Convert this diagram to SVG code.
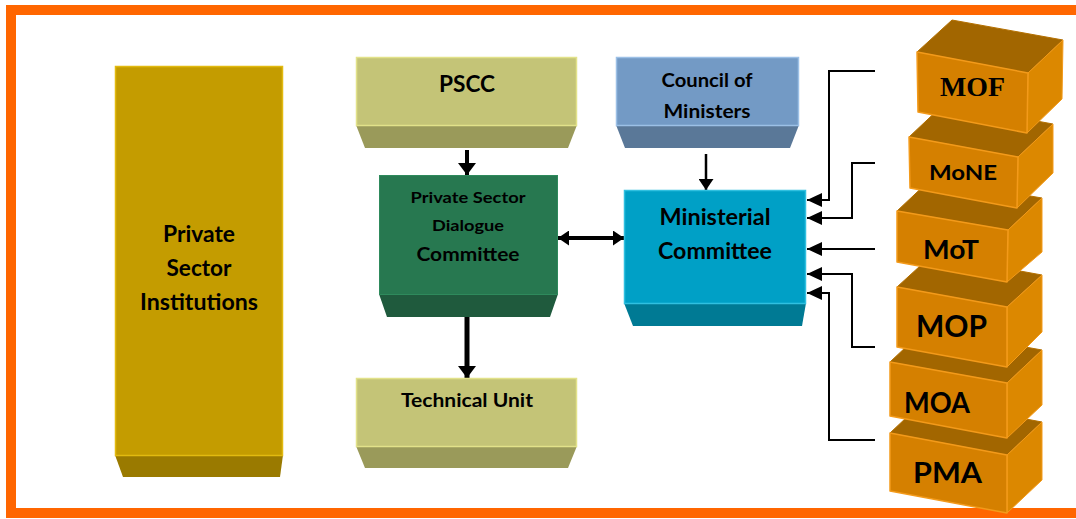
<svg xmlns="http://www.w3.org/2000/svg" width="1076" height="519" viewBox="0 0 1076 519">
  <defs>
    <style>
      .lbl { font-family: Lato, "Liberation Sans", sans-serif; font-weight: bold; fill: #000; text-anchor: middle; }
      .serif { font-family: "Liberation Serif", "DejaVu Serif", serif; font-weight: bold; fill: #000; text-anchor: middle; }
      .wire { fill: none; stroke: #000; }
      .gold .face { fill: #C49C00; stroke: #E2BA10; stroke-width: 1.5; }
      .gold .base { fill: #9A7A00; }
      .olive .face { fill: #C4C477; stroke: #E2E28A; stroke-width: 1.5; }
      .olive .base { fill: #9A9A5A; }
      .green .face { fill: #277850; stroke: #2E8A5C; stroke-width: 1; }
      .green .base { fill: #1F5A3D; }
      .steel .face { fill: #739AC5; stroke: #9CC0E6; stroke-width: 1.5; }
      .steel .base { fill: #5A7898; }
      .cyan .face { fill: #00A0C6; stroke: #30C0E0; stroke-width: 1.5; }
      .cyan .base { fill: #007A94; }
      .cube .front { fill: #D58000; stroke: #F39A1A; stroke-width: 1.5; stroke-linejoin: round; }
      .cube .top { fill: #A26600; stroke: #B47000; stroke-width: 1; }
      .cube .side { fill: #DC8800; stroke: #F39A1A; stroke-width: 1; }
    </style>
    <marker id="headL" viewBox="0 0 12 18" refX="12" refY="9" markerWidth="12" markerHeight="18" markerUnits="userSpaceOnUse" orient="auto">
      <path d="M0,0 L12,9 L0,18 z" fill="#000"/>
    </marker>
    <marker id="headM" viewBox="0 0 11 15" refX="11" refY="7.5" markerWidth="11" markerHeight="15" markerUnits="userSpaceOnUse" orient="auto-start-reverse">
      <path d="M0,0 L11,7.5 L0,15 z" fill="#000"/>
    </marker>
    <marker id="headS" viewBox="0 0 15 14" refX="15" refY="7" markerWidth="15" markerHeight="14" markerUnits="userSpaceOnUse" orient="auto">
      <path d="M0,0 L15,7 L0,14 z" fill="#000"/>
    </marker>
  </defs>

  <rect x="0" y="0" width="1076" height="519" fill="#fff"/>
  <!-- frame -->
  <rect x="11" y="10" width="1100" height="503" fill="none" stroke="#FF6600" stroke-width="10"/>

  <!-- connectors -->
  <g id="connectors">
    <path class="wire" d="M467,150 L467,175" stroke-width="4" marker-end="url(#headL)"/>
    <path class="wire" d="M706,154 L706,190" stroke-width="2.5" marker-end="url(#headM)"/>
    <path class="wire" d="M558,238 L624,238" stroke-width="4" marker-start="url(#headM)" marker-end="url(#headM)"/>
    <path class="wire" d="M467,317 L467,378" stroke-width="5" marker-end="url(#headL)"/>
    <path class="wire" d="M875,71 H829 V200 H807" stroke-width="2" marker-end="url(#headS)"/>
    <path class="wire" d="M875,163 H852 V218 H807" stroke-width="2" marker-end="url(#headS)"/>
    <path class="wire" d="M875,249 H807" stroke-width="2" marker-end="url(#headS)"/>
    <path class="wire" d="M875,347 H852 V274 H807" stroke-width="2" marker-end="url(#headS)"/>
    <path class="wire" d="M875,440 H829 V293 H807" stroke-width="2" marker-end="url(#headS)"/>
  </g>

  <!-- private sector institutions -->
  <g id="private-sector-institutions" class="gold">
    <polygon class="base" points="115,455 283,455 280,477 123,477"/>
    <rect class="face" x="115.5" y="66.5" width="167" height="389"/>
    <text class="lbl" x="199" y="242" font-size="22" textLength="72" lengthAdjust="spacingAndGlyphs">Private</text>
    <text class="lbl" x="199" y="276" font-size="22" textLength="65" lengthAdjust="spacingAndGlyphs">Sector</text>
    <text class="lbl" x="199" y="310" font-size="22" textLength="118" lengthAdjust="spacingAndGlyphs">Institutions</text>
  </g>

  <!-- PSCC -->
  <g id="pscc" class="olive">
    <polygon class="base" points="356,125 577,125 568,148 365,148"/>
    <rect class="face" x="356.5" y="57.5" width="220" height="68"/>
    <text class="lbl" x="467" y="92" font-size="22" textLength="56" lengthAdjust="spacingAndGlyphs">PSCC</text>
  </g>

  <!-- private sector dialogue committee -->
  <g id="psdc" class="green">
    <polygon class="base" points="379,294 558,294 550,317 387,317"/>
    <rect class="face" x="379.5" y="175.5" width="178" height="119"/>
    <text class="lbl" x="468" y="203" font-size="16" textLength="115" lengthAdjust="spacingAndGlyphs">Private Sector</text>
    <text class="lbl" x="468" y="231" font-size="16" textLength="72" lengthAdjust="spacingAndGlyphs">Dialogue</text>
    <text class="lbl" x="468" y="261" font-size="19" textLength="103" lengthAdjust="spacingAndGlyphs">Committee</text>
  </g>

  <!-- technical unit -->
  <g id="technical-unit" class="olive">
    <polygon class="base" points="356,446 577,446 568,468 365,468"/>
    <rect class="face" x="356.5" y="378.5" width="220" height="68"/>
    <text class="lbl" x="467" y="407" font-size="18" textLength="132" lengthAdjust="spacingAndGlyphs">Technical Unit</text>
  </g>

  <!-- council of ministers -->
  <g id="council-of-ministers" class="steel">
    <polygon class="base" points="616,125 799,125 790,148 625,148"/>
    <rect class="face" x="616.5" y="57.5" width="182" height="68"/>
    <text class="lbl" x="707" y="87" font-size="19" textLength="91" lengthAdjust="spacingAndGlyphs">Council of</text>
    <text class="lbl" x="707" y="118" font-size="19" textLength="87" lengthAdjust="spacingAndGlyphs">Ministers</text>
  </g>

  <!-- ministerial committee -->
  <g id="ministerial-committee" class="cyan">
    <polygon class="base" points="624,303 806,303 802,326 633,326"/>
    <rect class="face" x="624.5" y="190.5" width="181" height="113"/>
    <text class="lbl" x="715" y="225" font-size="22" textLength="111" lengthAdjust="spacingAndGlyphs">Ministerial</text>
    <text class="lbl" x="715" y="259" font-size="22" textLength="114" lengthAdjust="spacingAndGlyphs">Committee</text>
  </g>

  <!-- ministry cubes, stacked bottom to top -->
  <g id="pma" class="cube">
    <polygon class="top" points="890,433 925,400 1042,422 1007,455"/>
    <polygon class="side" points="1007,455 1042,422 1042,480 1007,513"/>
    <polygon class="front" points="890,433 1007,455 1007,513 890,491"/>
    <text class="lbl" x="947.5" y="483" font-size="29" textLength="69" lengthAdjust="spacingAndGlyphs">PMA</text>
  </g>
  <g id="moa" class="cube">
    <polygon class="top" points="890,362 925,329 1042,350 1007,383"/>
    <polygon class="side" points="1007,383 1042,350 1042,405 1007,438"/>
    <polygon class="front" points="890,362 1007,383 1007,438 890,416"/>
    <text class="lbl" x="937" y="413" font-size="28" textLength="66" lengthAdjust="spacingAndGlyphs">MOA</text>
  </g>
  <g id="mop" class="cube">
    <polygon class="top" points="897,287 932,255 1042,275 1007,307"/>
    <polygon class="side" points="1007,307 1042,275 1042,332 1007,367"/>
    <polygon class="front" points="897,287 1007,307 1007,367 897,347"/>
    <text class="lbl" x="951.5" y="337" font-size="30" textLength="71" lengthAdjust="spacingAndGlyphs">MOP</text>
  </g>
  <g id="mot" class="cube">
    <polygon class="top" points="897,211 931,179 1042,198 1008,230"/>
    <polygon class="side" points="1008,230 1042,198 1042,252 1007,282"/>
    <polygon class="front" points="897,211 1008,230 1007,282 897,262"/>
    <text class="lbl" x="951" y="259" font-size="26" textLength="56" lengthAdjust="spacingAndGlyphs">MoT</text>
  </g>
  <g id="mone" class="cube">
    <polygon class="top" points="909,137 944,104 1053,124 1018,157"/>
    <polygon class="side" points="1018,157 1053,124 1053,173 1017,208"/>
    <polygon class="front" points="909,137 1018,157 1017,208 910,188"/>
    <text class="lbl" x="963" y="180" font-size="21" textLength="68" lengthAdjust="spacingAndGlyphs">MoNE</text>
  </g>
  <g id="mof" class="cube">
    <polygon class="top" points="917,52 952,20 1063,40 1028,73"/>
    <polygon class="side" points="1028,73 1063,40 1062,99 1027,133"/>
    <polygon class="front" points="917,52 1028,73 1027,133 918,112"/>
    <text class="serif" x="972.5" y="96" font-size="28" textLength="65" lengthAdjust="spacingAndGlyphs">MOF</text>
  </g>
</svg>
